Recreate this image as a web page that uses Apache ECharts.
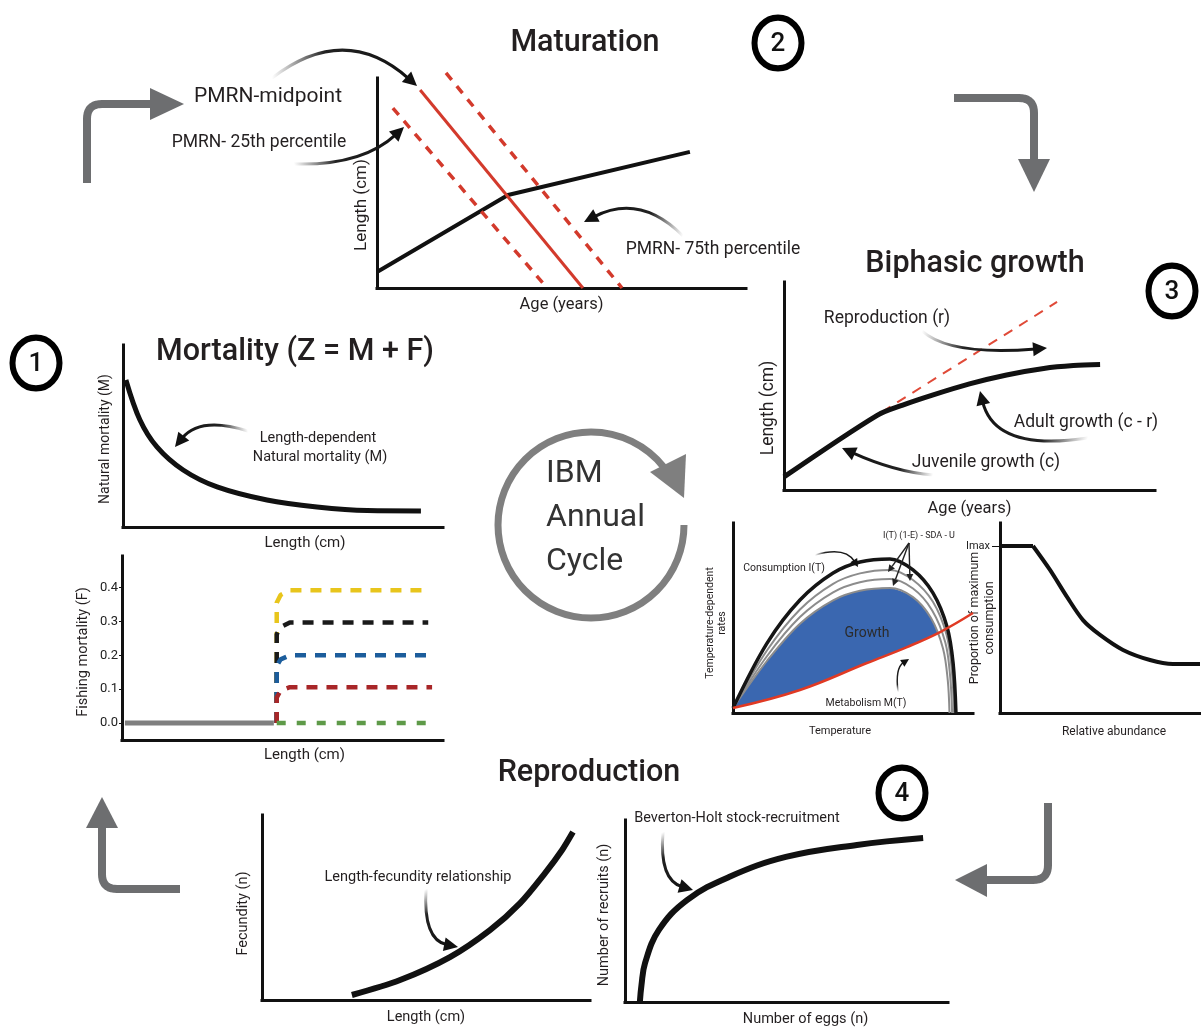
<!DOCTYPE html>
<html><head><meta charset="utf-8">
<script src="https://cdn.jsdelivr.net/npm/echarts@6/dist/echarts.min.js"></script>
<style>html,body{margin:0;padding:0;background:#fff}#c{width:1201px;height:1029px}</style>
</head><body><div id="c"></div>
<script>
// ---------------- DATA ----------------
// Panel 2: Maturation (age vs length, 0-100 relative units)
const maturGrowth = [[0,7.6],[35.5,44.3],[84.8,64.8]];
const pmrnMid = [[11.7,94.3],[55.8,0]];
const pmrn25 = [[4.3,85.7],[46.1,0]];
const pmrn75 = [[18.7,102.4],[66.4,0]];
// Panel 3: Biphasic growth
const growthCurve = [[0,6.3],[25,35.8],[32,40.8],[40,45.6],[50,51],[60,55.3],[70,58.4],[78,59.8],[85.2,60.3]];
const reproLine = [[26.4,37.5],[73.6,90.4]];
// Panel 1: Natural mortality
const natMort = [[0.9,80.8],[5.3,58.8],[10.6,44.0],[18.8,31.3],[29.4,22.0],[45,14.8],[60.6,11.0],[76.3,9.0],[93.1,8.8]];
// Panel 1: Fishing mortality (F)
const fTicks = [0,0.1,0.2,0.3,0.4];
const fishGrey = [[0.9,0],[47.3,0]];
const fishYellow = [[48.2,0],[48.2,0.355],[49.4,0.378],[52.3,0.392],[95.4,0.392]];
const fishBlack = [[48.2,0],[48.2,0.262],[49.4,0.283],[52.3,0.297],[95.4,0.297]];
const fishBlue = [[48.2,0],[48.2,0.168],[49.4,0.188],[52.3,0.2],[96.5,0.2]];
const fishRed = [[48.2,0],[48.2,0.075],[49.4,0.096],[52.3,0.106],[96.6,0.106]];
const fishGreen = [[48.2,0],[96.3,0]];
// Bioenergetics: temperature-dependent rates
const consumption = [[0,2.6],[14.2,36.8],[27.9,59.5],[41.7,73.7],[52.9,79.5],[65.4,81.1],[75,75.3],[83.3,63.2],[89.2,45.3],[91.7,26.3],[92.9,0]];
const netGrey1 = [[0,2.6],[14.2,33],[27.9,54.5],[41.7,68],[52.9,73.5],[65.4,75.3],[75,70],[83.3,58.5],[89,41],[91.2,22],[92.1,0]];
const netGrey2 = [[0,2.6],[14.2,30],[27.9,50.5],[41.7,63.5],[52.9,68.8],[65.4,70.5],[75,65.5],[83,54],[88.5,37],[90.5,19],[91.3,0]];
const netInner = [[0,2.6],[14.2,27.5],[27.9,47],[41.7,59.3],[52.9,64.3],[65.4,65.8],[75,61],[82.5,50],[87.5,34],[89.5,17],[90.2,0]];
const metabolism = [[0,2.6],[27.9,12.1],[55.8,26.3],[72.5,34.7],[86.3,42.6],[100,52.6]];
const growthUpper = [[0,2.6],[14.2,27.5],[27.9,47],[41.7,59.3],[52.9,64.3],[65.4,65.8],[75,61],[82.5,50],[85.6,42.3]];
const growthLower = [[85.6,42.3],[72.5,34.7],[55.8,26.3],[27.9,12.1],[0,2.6]];
// Proportion of maximum consumption vs relative abundance
const imaxValue = 87.9;
const propCons = [[0,87.9],[16.5,87.9],[25,75.3],[33.5,61.1],[41.5,48.9],[50,41.1],[61.5,33.2],[75,27.9],[86.5,25.8],[100,25.8]];
// Panel 4: Reproduction
const fecundity = [[27.4,2.7],[42.1,10.8],[57.3,23.2],[69.5,37.8],[78.7,52.4],[86.3,68.6],[91.5,81.1],[94.8,90.8]];
const recruits = [[4.6,0],[5.1,9.3],[6.2,21.4],[10.5,39.6],[19.2,56.0],[32.2,68.7],[49.8,79.7],[71.8,86.3],[92.3,90.1]];

// ---------------- LAYOUT ----------------
const FONT = 'Roboto, "Noto Sans", sans-serif';
const TXT = '#231f20';
const grids = [
  {left:377, top:78, width:369, height:210},   // 0 maturation
  {left:784, top:282, width:371, height:208},  // 1 biphasic
  {left:123, top:345, width:320, height:182},  // 2 natural mortality
  {left:122, top:556, width:321, height:184},  // 3 fishing mortality
  {left:733, top:523, width:240, height:190},  // 4 temperature rates
  {left:1000, top:523, width:200, height:190}, // 5 prop. consumption
  {left:262, top:815, width:328, height:185},  // 6 fecundity
  {left:625, top:820, width:323, height:182}   // 7 recruits
];
const axLine = {show:true, onZero:false, lineStyle:{color:'#111', width:3, cap:'square'}};
function nm(size, pad){ return {fontFamily:FONT, fontSize:size, color:TXT, lineHeight:size+2, padding:pad||0}; }
function xA(i, name, gap, size, pad, extra){
  return Object.assign({type:'value', gridIndex:i, min:0, max:100, axisLine:axLine, axisTick:{show:false}, axisLabel:{show:false}, splitLine:{show:false},
    name:name, nameLocation:'middle', nameGap:gap, nameMoveOverlap:false, nameTextStyle:nm(size,pad)}, extra||{});
}
function yA(i, name, gap, size, pad, extra){
  return Object.assign({type:'value', gridIndex:i, min:0, max:100, axisLine:axLine, axisTick:{show:false}, axisLabel:{show:false}, splitLine:{show:false},
    name:name, nameLocation:'middle', nameGap:gap, nameMoveOverlap:false, nameTextStyle:nm(size,pad)}, extra||{});
}
const xAxes = [
  xA(0,'Age (years)',8,16.5), xA(1,'Age (years)',10,16.5), xA(2,'Length (cm)',8,15,[0,0,0,44]), xA(3,'Length (cm)',7,15,[0,0,0,44]),
  xA(4,'Temperature',12,11,[0,26,0,0]), xA(5,'Relative abundance',12,12,[0,0,0,28]), xA(6,'Length (cm)',9,14.5), xA(7,'Number of eggs (n)',9,14.5,[0,0,0,38])
];
const yAxes = [
  yA(0,'Length (cm)',6,17,[0,44,0,0]), yA(1,'Length (cm)',6,17.5,[0,44,0,0]), yA(2,'Natural mortality (M)',10,14,[0,6,0,0]),
  yA(3,'Fishing mortality (F)',30,14.5,[0,8,0,0],{min:-0.05, max:0.493,
    axisTick:{show:true, length:3, lineStyle:{color:'#111', width:1}, customValues:fTicks},
    axisLabel:{show:true, margin:4, fontFamily:FONT, fontSize:13, color:'#222', customValues:fTicks, formatter:v=>Number(v).toFixed(1)}}),
  yA(4,'Temperature-dependent\nrates',4,10.5,[0,10,0,0]),
  yA(5,'Proportion of maximum\nconsumption',3,12.5,[0,0,0,0],{
    axisTick:{show:true, length:8, lineStyle:{color:'#111', width:1}, customValues:[imaxValue]},
    axisLabel:{show:true, margin:10, fontFamily:FONT, fontSize:11, color:'#222', customValues:[imaxValue], formatter:()=> 'Imax'}}),
  yA(6,'Fecundity (n)',10,14.5,[0,12,0,0]), yA(7,'Number of recruits (n)',12,14.5,[0,8,0,0])
];
function ln(i, data, color, width, extra){
  return Object.assign({type:'line', xAxisIndex:i, yAxisIndex:i, data:data, symbol:'none', clip:false, silent:true,
    lineStyle:{color:color, width:width, cap:'butt'}}, extra||{});
}
const dashed = (c, w, d)=>({lineStyle:{color:c, width:w, type:d||[10,9], cap:'butt'}});
const series = [
  ln(0, maturGrowth, '#111', 4),
  ln(0, pmrn25, '#d33a2c', 3.5, dashed('#d33a2c',3.5,[9,8])),
  ln(0, pmrn75, '#d33a2c', 3.5, dashed('#d33a2c',3.5,[9,8])),
  ln(0, pmrnMid, '#d33a2c', 3),
  ln(1, reproLine, '#e04a38', 2, dashed('#e04a38',2,[10,8])),
  ln(1, growthCurve, '#111', 5, {smooth:0.3}),
  ln(2, natMort, '#111', 5, {smooth:0.35}),
  ln(3, fishGrey, '#7f7f7f', 5),
  ln(3, fishYellow, '#e8c51c', 4.5, dashed('#e8c51c',4.5,[11,9])),
  ln(3, fishBlack, '#1a1a1a', 4.5, dashed('#1a1a1a',4.5,[11,9])),
  ln(3, fishBlue, '#1c5d9c', 4.5, dashed('#1c5d9c',4.5,[11,9])),
  ln(3, fishRed, '#a82628', 4.5, dashed('#a82628',4.5,[11,9])),
  ln(3, fishGreen, '#5e9a48', 4.5, dashed('#5e9a48',4.5,[9,11])),
  {type:'custom', xAxisIndex:4, yAxisIndex:4, silent:true, clip:false, data:[[0,0]], z:1,
    renderItem:function(params, api){
      const pts = growthUpper.concat(growthLower).map(p=>api.coord(p));
      return {type:'polygon', shape:{points:pts, smooth:0.25}, style:{fill:'#3a67b0'}};
    }},
  ln(4, netInner, '#8c8c8c', 2, {smooth:0.35}),
  ln(4, netGrey2, '#8c8c8c', 2, {smooth:0.35}),
  ln(4, netGrey1, '#8c8c8c', 2, {smooth:0.35}),
  ln(4, consumption, '#151515', 3.5, {smooth:0.35}),
  ln(4, metabolism, '#e03a24', 2.5, {smooth:0.4}),
  ln(5, propCons.slice(0,2), '#111', 4),
  ln(5, propCons.slice(1), '#111', 4, {smooth:0.3}),
  ln(6, fecundity, '#111', 6, {smooth:0.3}),
  ln(7, recruits, '#111', 6, {smooth:0.4})
];

// ---------------- DECORATION ----------------
const G = [];
function text(str, x, y, size, opts){
  opts = opts||{};
  G.push({type:'text', z:10, style:{text:str, x:x, y:y, fill:opts.color||TXT, font:(opts.weight||'normal')+' '+size+'px '+FONT,
    textAlign:opts.align||'center', textVerticalAlign:'middle'}});
}
function arrow(x1,y1,cx,cy,x2,y2,o){
  o = o||{};
  const w=o.w||3, hl=o.hl||14, hw=o.hw||7;
  const dx=x2-cx, dy=y2-cy, L=Math.hypot(dx,dy), ux=dx/L, uy=dy/L;
  const bx=x2-ux*hl*0.8, by=y2-uy*hl*0.8;
  const hb = [x2-ux*hl, y2-uy*hl];
  G.push({type:'bezierCurve', z:9, shape:{x1:x1,y1:y1,x2:bx,y2:by,cpx1:cx,cpy1:cy},
    style:{fill:null, lineWidth:w, stroke:{type:'linear', x:x1, y:y1, x2:x2, y2:y2, global:true,
      colorStops:[{offset:0,color:'rgba(40,40,40,0)'},{offset:o.fade||0.35,color:'#222'},{offset:1,color:'#111'}]}}});
  G.push({type:'polygon', z:9, shape:{points:[[x2,y2],[hb[0]-uy*hw,hb[1]+ux*hw],[hb[0]+uy*hw,hb[1]-ux*hw]]}, style:{fill:'#111'}});
}
function straightArrow(x1,y1,x2,y2){
  const dx=x2-x1, dy=y2-y1, L=Math.hypot(dx,dy), ux=dx/L, uy=dy/L, hl=7, hw=3.5;
  const hb=[x2-ux*hl, y2-uy*hl];
  G.push({type:'line', z:9, shape:{x1:x1,y1:y1,x2:hb[0],y2:hb[1]}, style:{stroke:'#222', lineWidth:1.4}});
  G.push({type:'polygon', z:9, shape:{points:[[x2,y2],[hb[0]-uy*hw,hb[1]+ux*hw],[hb[0]+uy*hw,hb[1]-ux*hw]]}, style:{fill:'#222'}});
}
// grey elbow arrow: start point, corner point, end point
function grey(sx,sy, kx,ky, ex,ey, head){
  const r = 15;
  const d1 = [Math.sign(kx-sx), Math.sign(ky-sy)], d2 = [Math.sign(ex-kx), Math.sign(ey-ky)];
  const p1 = [kx-d1[0]*r, ky-d1[1]*r], p2 = [kx+d2[0]*r, ky+d2[1]*r];
  const pts = [[sx,sy], p1];
  for (let i=1;i<10;i++){
    const t=i/10, a=(1-t)*(1-t), b=2*t*(1-t), c=t*t;
    pts.push([a*p1[0]+b*kx+c*p2[0], a*p1[1]+b*ky+c*p2[1]]);
  }
  pts.push(p2, [ex,ey]);
  G.push({type:'polyline', z:5, shape:{points:pts}, style:{fill:null, stroke:'#6d6e70', lineWidth:8, lineJoin:'round'}});
  G.push({type:'polygon', z:5, shape:{points:head}, style:{fill:'#6d6e70'}});
}
function badge(n, cx, cy){
  G.push({type:'circle', z:10, scaleY:1.08, x:cx, y:cy, shape:{cx:0, cy:0, r:23.5}, style:{fill:'#fff', stroke:'#000', lineWidth:6}});
  text(String(n), cx, cy+1, 26, {weight:'500', color:'#111'});
}

// titles
text('Maturation', 585, 43, 30.5, {weight:'500'});
text('Biphasic growth', 975, 264, 30.5, {weight:'500'});
text('Mortality (Z = M + F)', 295, 352, 30.5, {weight:'500'});
text('Reproduction', 589, 773, 30.5, {weight:'500'});
badge(1, 36, 363); badge(2, 778, 43); badge(3, 1172, 291); badge(4, 902, 793);

// maturation annotations
text('PMRN-midpoint', 268, 97, 21);
text('PMRN- 25th percentile', 259, 143, 17.5);
text('PMRN- 75th percentile', 713, 250, 17.5);
arrow(272,78, 345,22, 417,86);
arrow(294,164, 362,166, 404,127);
arrow(683,236, 640,193, 584,222);
// biphasic annotations
text('Reproduction (r)', 887, 319, 17.5);
text('Adult growth (c - r)', 1086, 423, 17.5);
text('Juvenile growth (c)', 986, 463, 17.5);
arrow(922,331, 950,356, 1047,348);
arrow(1088,438, 995,452, 980,391);
arrow(933,475, 895,472, 842,448);
// mortality annotation
text('Length-dependent', 318, 438, 14.5);
text('Natural mortality (M)', 320, 457, 14.5);
arrow(248,431, 200,416, 175,447);
// bioenergetics annotations
text('Consumption I(T)', 784, 568, 10.5);
text('I(T) (1-E) - SDA - U', 919, 536, 9);
text('Growth', 867, 633, 14, {color:'#2b2b2b'});
text('Metabolism M(T)', 866, 703, 10.5);
arrow(815,555, 845,546, 858,567, {w:1.5, hl:8, hw:4, fade:0.2});
straightArrow(909,543, 888,572);
straightArrow(909,543, 893,586);
straightArrow(909,543, 910,581);
arrow(898,692, 895,668, 909,659, {w:1.5, hl:8, hw:4, fade:0.2});
// reproduction annotations
text('Length-fecundity relationship', 418, 877, 14.5);
text('Beverton-Holt stock-recruitment', 737, 818, 14.5);
arrow(426,889, 423,940, 458,947);
arrow(663,832, 659,880, 693,890);

// IBM cycle
G.push({type:'arc', z:5, shape:{cx:591, cy:525, r:93, startAngle:0, endAngle:322*Math.PI/180, clockwise:true}, style:{fill:null, stroke:'#7f7f7f', lineWidth:7}});
G.push({type:'polygon', z:5, shape:{points:[[650,472],[686,454],[684,498]]}, style:{fill:'#7f7f7f'}});
text('IBM', 546, 474, 32, {align:'left', color:'#333'});
text('Annual', 546, 518, 32, {align:'left', color:'#333'});
text('Cycle', 546, 562, 32, {align:'left', color:'#333'});

// grey flow arrows
grey(87,183, 87,104, 152,104, [[150,88],[150,120],[184,104]]);
grey(954,98, 1034,98, 1034,162, [[1018,159],[1050,159],[1034,192]]);
grey(1048,803, 1048,880, 985,880, [[987,864],[987,897],[955,880]]);
grey(180,889, 102,889, 102,825, [[86,828],[118,828],[102,797]]);

const chart = echarts.init(document.getElementById('c'), null, {renderer:'canvas'});
chart.setOption({
  animation:false,
  backgroundColor:'#fff',
  textStyle:{fontFamily:FONT},
  grid:grids,
  xAxis:xAxes,
  yAxis:yAxes,
  series:series,
  graphic:{elements:G}
});
</script></body></html>
